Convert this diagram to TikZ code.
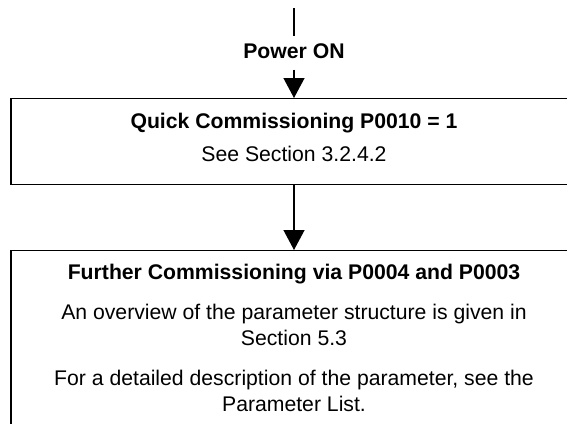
\documentclass[tikz,border=0pt]{standalone}
\usepackage{fontspec}
\setmainfont{Liberation Sans}
\usetikzlibrary{arrows.meta}
\begin{document}
\begin{tikzpicture}[x=0.5pt,y=-0.5pt,
  line width=0.65pt,
  boxstyle/.style={draw, rectangle, minimum width=283pt, inner sep=0pt, anchor=north},
  txt/.style={anchor=base, inner sep=0pt, font=\fontsize{10.6}{13}\selectfont},
  btxt/.style={txt, font=\fontsize{10.6}{13}\selectfont\bfseries},
  arr/.style={-{Triangle[width=10.5pt,length=10pt]}}]
\useasboundingbox (0,0) rectangle (567,423);
\clip (0,0) rectangle (567,423);
\coordinate (start) at (294,8);
\node[btxt, anchor=center, text height=7pt, text depth=0pt] (power) at (294,51) {Power ON};
\node[boxstyle, minimum height=43pt] (box1) at (294,98) {};
\node[boxstyle, minimum height=110pt] (box2) at (294,250) {};
\node[btxt] (t1) at (294,128) {Quick Commissioning P0010 = 1};
\node[txt] (t2) at (294,161) {See Section 3.2.4.2};
\node[btxt] (t3) at (294,279) {Further Commissioning via P0004 and P0003};
\node[txt] (t4) at (294,319) {An overview of the parameter structure is given in};
\node[txt] (t5) at (294,345) {Section 5.3};
\node[txt] (t6) at (294,385) {For a detailed description of the parameter, see the};
\node[txt] (t7) at (294,411) {Parameter List.};
\draw[shorten >=3.5pt] (start) -- (power.north);
\draw[arr, shorten <=5.5pt] (power.south) -- (box1.north);
\draw[arr] (box1.south) -- (box2.north);
\end{tikzpicture}
\end{document}
